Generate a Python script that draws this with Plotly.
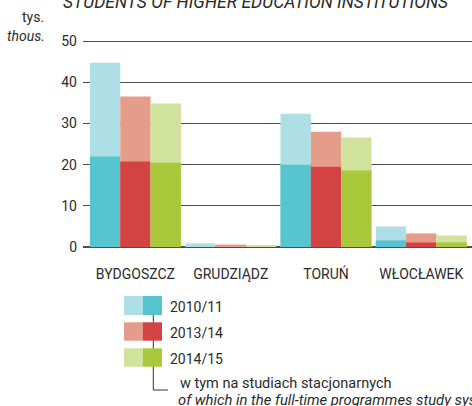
import plotly.graph_objects as go

# ---- data ----
cities = ["BYDGOSZCZ", "GRUDZIĄDZ", "TORUŃ", "WŁOCŁAWEK"]
years = ["2010/11", "2013/14", "2014/15"]
total_2010 = [44.8, 0.9, 32.4, 5.0]
total_2013 = [36.6, 0.6, 28.0, 3.3]
total_2014 = [34.9, 0.3, 26.6, 2.8]
fulltime_2010 = [22.0, 0.0, 20.0, 1.6]
fulltime_2013 = [20.8, 0.0, 19.5, 1.1]
fulltime_2014 = [20.5, 0.0, 18.6, 1.1]
y_ticks = [0, 10, 20, 30, 40, 50]

light_colors = ["#aedfe4", "#e59d8b", "#d1e29d"]
dark_colors = ["#57c5d0", "#d44343", "#aac83c"]

totals = [total_2010, total_2013, total_2014]
fulltimes = [fulltime_2010, fulltime_2013, fulltime_2014]

FONT = "Roboto, 'Liberation Sans', Arial, sans-serif"
TXT = "#2b2b2b"

fig = go.Figure()
for i, yr in enumerate(years):
    fig.add_trace(go.Bar(x=cities, y=totals[i], name=yr, offsetgroup=str(i),
                         marker=dict(color=light_colors[i], line=dict(width=0)),
                         showlegend=False, hoverinfo="x+y"))
    fig.add_trace(go.Bar(x=cities, y=fulltimes[i], name=yr + " (full-time)", offsetgroup=str(i),
                         marker=dict(color=dark_colors[i], line=dict(width=0)),
                         showlegend=False, hoverinfo="x+y"))

W, H = 472, 406
ML, MR, MT, MB = 83, 0, 40, 159
PW = W - ML - MR
PH = H - MT - MB


def px(x):
    return (x - ML) / PW


def py(y):
    return (H - MB - y) / PH


shapes = []
# connector line of the legend
shapes.append(dict(type="line", xref="paper", yref="paper", layer="above",
                   x0=px(153.3), x1=px(153.3), y0=py(315), y1=py(390),
                   line=dict(color="#333333", width=1)))
shapes.append(dict(type="line", xref="paper", yref="paper", layer="above",
                   x0=px(153.3), x1=px(168), y0=py(390), y1=py(390),
                   line=dict(color="#333333", width=1)))
rows = [(296, 315), (322.3, 340.7), (348.3, 366.7)]
for i, (t, b) in enumerate(rows):
    shapes.append(dict(type="rect", xref="paper", yref="paper", layer="above",
                       x0=px(124), x1=px(142.7), y0=py(b), y1=py(t),
                       fillcolor=light_colors[i], line=dict(width=0)))
    shapes.append(dict(type="rect", xref="paper", yref="paper", layer="above",
                       x0=px(142.7), x1=px(162), y0=py(b), y1=py(t),
                       fillcolor=dark_colors[i], line=dict(width=0)))

annotations = []
for i, (t, b) in enumerate(rows):
    annotations.append(dict(text=years[i], xref="paper", yref="paper",
                            x=px(168), y=py((t + b) / 2 + 1), xanchor="left", yanchor="middle",
                            showarrow=False, font=dict(family=FONT, size=14, color=TXT)))
annotations.append(dict(text="w tym na studiach stacjonarnych", xref="paper", yref="paper",
                        x=px(178), y=py(383), xanchor="left", yanchor="middle",
                        showarrow=False, font=dict(family=FONT, size=14.5, color=TXT)))
annotations.append(dict(text="<i>of which in the full-time programmes study system</i>",
                        xref="paper", yref="paper",
                        x=px(176), y=py(400), xanchor="left", yanchor="middle",
                        showarrow=False, font=dict(family=FONT, size=14.8, color=TXT)))
annotations.append(dict(text="<i>STUDENTS OF HIGHER EDUCATION INSTITUTIONS</i>",
                        xref="paper", yref="paper",
                        x=px(61), y=py(2), xanchor="left", yanchor="middle",
                        showarrow=False, font=dict(family=FONT, size=17.5, color=TXT)))
annotations.append(dict(text="tys.", xref="paper", yref="paper",
                        x=px(45.5), y=py(17), xanchor="right", yanchor="middle",
                        showarrow=False, font=dict(family=FONT, size=14, color=TXT)))
annotations.append(dict(text="<i>thous.</i>", xref="paper", yref="paper",
                        x=px(46.5), y=py(36.5), xanchor="right", yanchor="middle",
                        showarrow=False, font=dict(family=FONT, size=14, color=TXT)))

fig.update_layout(
    width=W, height=H,
    margin=dict(l=ML, r=MR, t=MT, b=MB, pad=0),
    paper_bgcolor="white", plot_bgcolor="white",
    barmode="group", bargap=0.045, bargroupgap=0,
    showlegend=False,
    font=dict(family=FONT, size=14, color=TXT),
    shapes=shapes, annotations=annotations,
    xaxis=dict(range=[-0.55, 3.532], showgrid=False, showline=False, zeroline=False,
               ticks="", tickfont=dict(family=FONT, size=14, color=TXT),
               ticklabelstandoff=17, fixedrange=True),
    yaxis=dict(range=[0, 50.3], tickvals=y_ticks, showgrid=True, gridcolor="#4d4d4d",
               gridwidth=1.3, zeroline=True, zerolinecolor="#4d4d4d", zerolinewidth=1.6,
               showline=False, ticks="", tickfont=dict(family=FONT, size=14, color=TXT),
               ticklabelstandoff=5, fixedrange=True),
)

fig.write_html("out.html", config={"displayModeBar": False},
               post_script="document.body.style.margin='0px';")
